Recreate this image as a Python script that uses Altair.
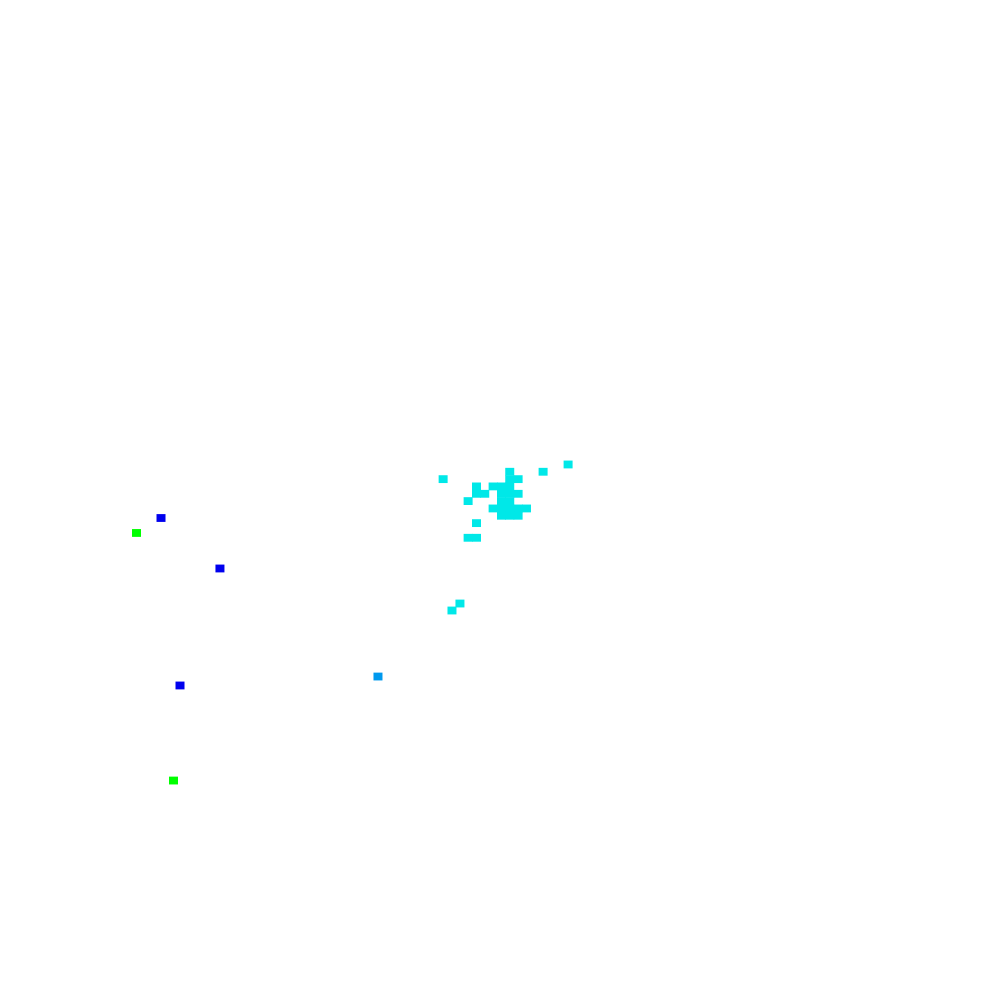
import altair as alt
import pandas as pd

# point positions (data units 0-100) and group
xs = [56.92, 54.38, 50.99, 44.22, 50.99, 51.84,
      47.61, 49.30, 50.15, 50.99,
      47.61, 48.45, 50.15, 50.99, 51.84,
      46.76, 50.15, 50.99,
      49.30, 50.15, 50.99, 51.84, 52.69,
      50.15, 50.99, 51.84,
      47.61,
      46.76, 47.61,
      45.93, 45.12,
      15.55, 13.06, 21.54, 37.60, 17.48, 16.82]
ys = [53.61, 52.87, 52.87, 52.12, 52.12, 52.12,
      51.38, 51.38, 51.38, 51.38,
      50.63, 50.63, 50.63, 50.63, 50.63,
      49.89, 49.89, 49.89,
      49.14, 49.14, 49.14, 49.14, 49.14,
      48.40, 48.40, 48.40,
      47.65,
      46.16, 46.16,
      39.48, 38.77,
      48.17, 46.65, 43.04, 32.06, 31.15, 21.49]
groups = ["c"] * 31 + ["b", "g", "b", "l", "b", "g"]

group_names = ["c", "b", "g", "l"]
group_colors = ["#00E8E8", "#0000EE", "#00FF00", "#0099EE"]

df = pd.DataFrame({"x": xs, "y": ys, "group": groups})

chart = alt.Chart(df).mark_point(
    shape="M-1,-0.87H1V0.87H-1Z", size=81, filled=True, opacity=1, strokeWidth=0
).encode(
    x=alt.X("x:Q", axis=None, scale=alt.Scale(domain=[0, 100], nice=False, zero=False)),
    y=alt.Y("y:Q", axis=None, scale=alt.Scale(domain=[0, 100], nice=False, zero=False)),
    color=alt.Color("group:N", legend=None,
                    scale=alt.Scale(domain=group_names, range=group_colors)),
).properties(
    width=984, height=984, autosize=alt.AutoSizeParams(type="none"), padding=0
).configure_view(stroke=None)

chart.save("out.html", embed_options={"renderer": "svg", "actions": False})
